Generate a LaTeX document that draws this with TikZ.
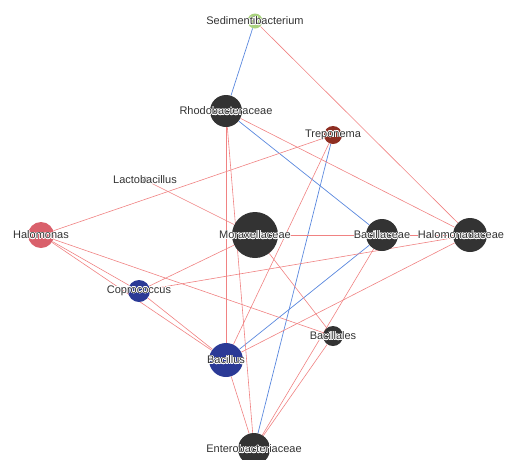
\documentclass[tikz,border=0pt]{standalone}
\usepackage{fontspec}
\setmainfont{Liberation Sans}
\usepackage{contour}
\contourlength{0.5pt}
\usetikzlibrary{backgrounds}

\definecolor{taxdark}{HTML}{333333}
\definecolor{taxred}{HTML}{D9606B}
\definecolor{taxbrown}{HTML}{8E2E22}
\definecolor{taxblue}{HTML}{2B3A96}
\definecolor{taxgreen}{HTML}{A9D27E}
\definecolor{taxgray}{HTML}{AAAAAA}
\definecolor{posedge}{HTML}{F08282}
\definecolor{negedge}{HTML}{5A88DE}

\begin{document}
\begin{tikzpicture}[x=1pt, y=-1pt, semithick,
    taxon/.style={circle, inner sep=0pt, draw=none, fill=taxdark},
    tax/.style={font=\fontsize{11}{13}\selectfont, text=taxdark},
    poslink/.style={draw=posedge, line width=0.6pt},
    neglink/.style={draw=negedge, line width=0.7pt}]
    \useasboundingbox (0,0) rectangle (506,459);

    \node[taxon, fill=taxgreen, minimum size=15pt] (sed) at (255,21)
        [label={[tax]center:\contour{white}{Sedimentibacterium}}] {};
    \node[taxon, minimum size=32pt] (rho) at (226,111)
        [label={[tax]center:\contour{white}{Rhodobacteraceae}}] {};
    \node[taxon, fill=taxbrown, minimum size=18pt] (trep) at (333,135)
        [label={[tax]center:\contour{white}{Treponema}}] {};
    \node[taxon, fill=taxgray, minimum size=7pt] (lacto) at (145,180)
        [label={[tax]center:\contour{white}{Lactobacillus}}] {};
    \node[taxon, fill=taxred, minimum size=26pt] (halo) at (41,235)
        [label={[tax]center:\contour{white}{Halomonas}}] {};
    \node[taxon, minimum size=46pt] (morax) at (255,235)
        [label={[tax]center:\contour{white}{Moraxellaceae}}] {};
    \node[taxon, minimum size=32pt] (bacc) at (382,235)
        [label={[tax]center:\contour{white}{Bacillaceae}}] {};
    \node[taxon, minimum size=34pt] (halod) at (470,235)
        [label={[tax, xshift=-9pt]center:\contour{white}{Halomonadaceae}}] {};
    \node[taxon, fill=taxblue, minimum size=22pt] (copro) at (139,291)
        [label={[tax]center:\contour{white}{Coprococcus}}] {};
    \node[taxon, minimum size=20pt] (bacl) at (333,336)
        [label={[tax]center:\contour{white}{Bacillales}}] {};
    \node[taxon, fill=taxblue, minimum size=34pt] (bacil) at (226,360)
        [label={[tax]center:\contour{white}{Bacillus}}] {};
    \node[taxon, minimum size=32pt] (entero) at (254,449)
        [label={[tax]center:\contour{white}{Enterobacteriaceae}}] {};

    \begin{pgfonlayer}{background}
    % negative correlations
    \path[neglink]
    (sed) edge (rho)
    (rho) edge (bacc)
    (trep) edge (entero)
    (bacil) edge (bacc);
    % positive correlations
    \path[poslink]
    (sed) edge (halod)
    (rho) edge (halod)
    (rho) edge (bacil)
    (rho) edge (entero)
    (trep) edge (halo)
    (trep) edge (bacil)
    (lacto) edge (morax)
    (halo) edge (copro)
    (halo) edge (bacl)
    (halo) edge (bacil)
    (copro) edge (morax)
    (copro) edge (halod)
    (copro) edge (bacil)
    (morax) edge (bacc)
    (morax) edge (bacl)
    (bacc) edge (halod)
    (bacc) edge (entero)
    (bacil) edge (halod)
    (bacil) edge (entero)
    (bacl) edge (entero);
    \end{pgfonlayer}
\end{tikzpicture}
\end{document}
